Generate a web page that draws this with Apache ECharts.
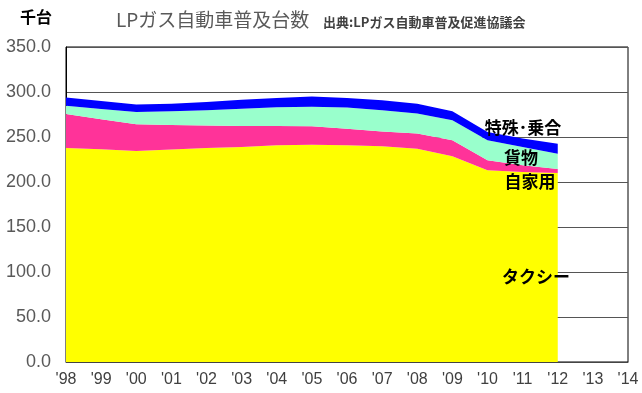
<!DOCTYPE html>
<html><head><meta charset="utf-8">
<script src="https://cdn.jsdelivr.net/npm/echarts@6/dist/echarts.min.js"></script>
<style>html,body{margin:0;padding:0;background:#fff}#c{width:642px;height:393px}</style>
</head><body><div id="c"></div>
<script>
const years = ["'98","'99","'00","'01","'02","'03","'04","'05","'06","'07","'08","'09","'10","'11","'12","'13","'14"];
const taxi    = [237.8,236.3,234.5,236.0,237.8,238.9,240.8,241.5,240.8,239.7,237.0,228.6,213.0,211.0,210.0];
const privateCar = [37.7,33.4,29.6,27.4,24.9,23.3,21.4,20.4,18.5,16.5,16.8,17.7,11.1,7.6,4.5];
const cargo   = [9.3,11.4,13.7,15.2,17.0,19.3,20.8,21.8,23.4,23.5,22.2,22.3,22.2,20.3,17.0];
const special = [9.2,8.9,8.2,8.4,9.3,10.0,10.4,11.2,10.7,11.1,11.0,10.0,9.3,9.3,11.1];
const seriesNames = ['タクシー','自家用','貨物','特殊･乗合'];
const colors = ['#FFFF00','#FF3399','#99FFCC','#0000FF'];
const yTicks = [0,50,100,150,200,250,300,350];

const chart = echarts.init(document.getElementById('c'));
const jp = '"Noto Sans CJK JP", sans-serif';
const mk = (name, data, color) => ({
  name, type:'line', stack:'total', data, symbol:'none', smooth:false,
  lineStyle:{width:0}, areaStyle:{color, opacity:1}, itemStyle:{color}
});
const lab = (text, x, y) => ({type:'text',x,y,z:100,
  style:{text,font:'bold 17px '+jp,fill:'#000',align:'center',verticalAlign:'middle'}});
chart.setOption({
  animation:false,
  grid:{left:66,right:14,top:47,bottom:31,show:true,borderColor:'#000',borderWidth:1,containLabel:false},
  xAxis:{type:'category',data:years,boundaryGap:false,
    axisLine:{lineStyle:{color:'#444'}},axisTick:{show:false},
    axisLabel:{color:'#404040',fontFamily:'"Liberation Sans", Arial',fontSize:16,margin:10,interval:0}},
  yAxis:{type:'value',min:yTicks[0],max:yTicks[yTicks.length-1],interval:50,
    axisLine:{show:true,lineStyle:{color:'#000'}},axisTick:{show:false},
    splitLine:{lineStyle:{color:'#555',width:1}},
    axisLabel:{color:'#595959',fontFamily:'"Liberation Sans", Arial',fontSize:18,margin:15,
      formatter:v=>v.toFixed(1)}},
  series:[mk(seriesNames[0],taxi,colors[0]),mk(seriesNames[1],privateCar,colors[1]),
          mk(seriesNames[2],cargo,colors[2]),mk(seriesNames[3],special,colors[3])],
  graphic:[
    {type:'text',left:20,top:9,z:100,style:{text:'千台',font:'bold 16px '+jp,fill:'#000'}},
    {type:'text',left:116,top:10,z:100,style:{text:'LPガス自動車普及台数',font:'19px '+jp,fill:'#595959'}},
    {type:'text',left:323,top:16,z:100,style:{text:'出典:LPガス自動車普及促進協議会',font:'bold 13px '+jp,fill:'#404040'}},
    lab(seriesNames[3],523,128),
    lab(seriesNames[2],521,158),
    lab(seriesNames[1],530,182),
    lab(seriesNames[0],536,277)
  ]
});
</script></body></html>
